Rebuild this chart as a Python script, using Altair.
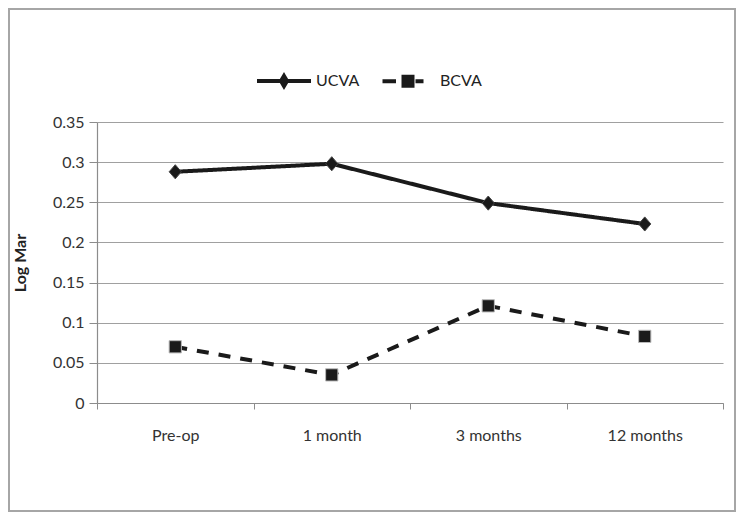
import altair as alt
import pandas as pd

categories = ["Pre-op", "1 month", "3 months", "12 months"]
series_names = ["UCVA", "BCVA"]
ucva = [0.288, 0.298, 0.249, 0.223]
bcva = [0.070, 0.035, 0.121, 0.083]
y_ticks = [0, 0.05, 0.1, 0.15, 0.2, 0.25, 0.3, 0.35]

rows = []
for name, vals in zip(series_names, [ucva, bcva]):
    for c, v in zip(categories, vals):
        rows.append({"time": c, "series": name, "value": v})
df = pd.DataFrame(rows)

FONT = "Lato"
INK = "#1a1a1a"
W, H = 626, 281

x_enc = alt.X(
    "time:N", sort=categories, bandPosition=0.5,
    scale=alt.Scale(type="band", paddingInner=0, paddingOuter=0),
    axis=alt.Axis(title=None, tickBand="extent", labelAngle=0, tickSize=6,
                  labelPadding=18, grid=False),
)
y_enc = alt.Y(
    "value:Q",
    scale=alt.Scale(domain=[0, 0.35], nice=False, zero=True),
    axis=alt.Axis(title="Log Mar", values=y_ticks, format="~g", grid=True,
                  tickSize=8, labelPadding=5, titlePadding=24,
                  titleFontWeight="bold"),
)

lines = alt.Chart(df).mark_line(strokeWidth=4, color=INK).encode(
    x=x_enc, y=y_enc,
    strokeDash=alt.StrokeDash("series:N", legend=None,
                              scale=alt.Scale(domain=series_names, range=[[1, 0], [12, 10]])),
    detail="series:N",
)

pt_diamond = "M-0.86,0L0,-1L0.86,0L0,1Z"
pt_square = "M-1,-1H1V1H-1Z"
points = alt.Chart(df).mark_point(filled=True, fill=INK, opacity=1, strokeWidth=1).encode(
    x=x_enc, y=y_enc,
    shape=alt.Shape("series:N", legend=None,
                    scale=alt.Scale(domain=series_names, range=[pt_diamond, pt_square])),
    size=alt.Size("series:N", legend=None,
                  scale=alt.Scale(domain=series_names, range=[200, 150])),
    stroke=alt.Stroke("series:N", legend=None,
                      scale=alt.Scale(domain=series_names, range=["#444444", "#bbbbbb"])),
)

lg_ucva = "M-5.4,0H5.4M0,-1L0.6,0L0,1L-0.6,0ZM0,-0.5L0.3,0L0,0.5L-0.3,0Z"
lg_bcva = "M-5.1,0H-2.4M1.5,0H3.1M-0.9,-0.9H0.9V0.9H-0.9ZM-0.45,-0.45H0.45V0.45H-0.45ZM-0.1,-0.1H0.1V0.1H-0.1Z"
legend_layer = alt.Chart(df).transform_filter("false").mark_point(
    filled=False, stroke=INK, strokeWidth=4, opacity=1
).encode(
    x=x_enc, y=y_enc,
    shape=alt.Shape(
        "series:N",
        scale=alt.Scale(domain=series_names, range=[lg_ucva, lg_bcva]),
        legend=alt.Legend(title=None, orient="none", direction="horizontal",
                          legendX=179, legendY=-49, symbolSize=100,
                          labelOffset=24, columnPadding=14, padding=0,
                          symbolStrokeWidth=4, symbolStrokeColor=INK,
                          labelFont=FONT, labelFontSize=16, labelColor="#222222"),
    ),
)

frame = alt.Chart(pd.DataFrame({"a": [0]})).mark_rect(
    filled=False, stroke="#a6a6a6", strokeWidth=2
).encode(x=alt.value(-88), x2=alt.value(638), y=alt.value(-113), y2=alt.value(389))

chart = alt.layer(frame, lines, points, legend_layer).resolve_scale(
    shape="independent"
).properties(
    width=W, height=H,
    autosize=alt.AutoSizeParams(type="none"),
    padding={"left": 89, "top": 114, "right": 13, "bottom": 109},
).configure_view(stroke=None).configure_axis(
    labelFont=FONT, labelFontSize=16, labelColor="#333333",
    titleFont=FONT, titleFontSize=16, titleColor="#222222",
    domainColor="#8c8c8c", tickColor="#8c8c8c", gridColor="#a0a0a0",
    gridWidth=1.2, domainWidth=1.2,
)

chart.save("out.html", embed_options={"renderer": "svg", "actions": False})
